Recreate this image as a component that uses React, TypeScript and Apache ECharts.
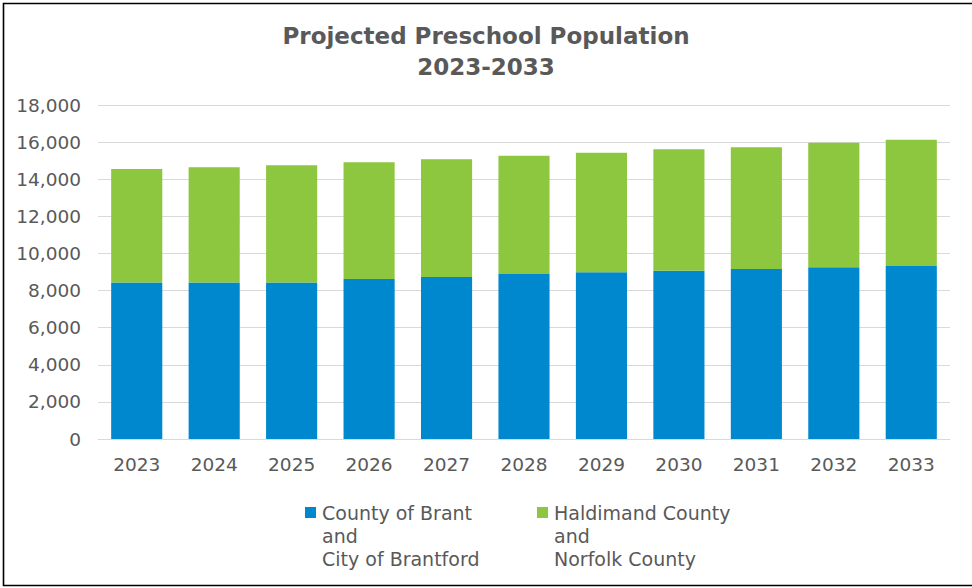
import React, { useEffect, useRef } from "react";
import * as echarts from "echarts";

const years = ["2023", "2024", "2025", "2026", "2027", "2028", "2029", "2030", "2031", "2032", "2033"];
const brantValues = [8440, 8440, 8440, 8620, 8730, 8890, 8980, 9070, 9160, 9250, 9330];
const haldimandValues = [6110, 6200, 6310, 6290, 6340, 6370, 6450, 6540, 6560, 6710, 6800];
const seriesNames = ["County of Brant\nand\nCity of Brantford", "Haldimand County\nand\nNorfolk County"];
const seriesColors = ["#0088CF", "#8DC63F"];
const titleText = "Projected Preschool Population\n2023-2033";

const FONT = "'DejaVu Sans', sans-serif";

export default function App() {
  const ref = useRef<HTMLDivElement>(null);
  useEffect(() => {
    if (!ref.current) return;
    const chart = echarts.init(ref.current, undefined, { renderer: "svg" });
    const legendX = [305, 537];
    const legendGraphics: any[] = [];
    seriesNames.forEach((name, i) => {
      legendGraphics.push({
        type: "rect",
        shape: { x: legendX[i], y: 507, width: 11, height: 11 },
        style: { fill: seriesColors[i] },
        silent: true,
      });
      legendGraphics.push({
        type: "text",
        x: legendX[i] + 17,
        y: 501,
        style: {
          text: name,
          fontFamily: FONT,
          fontSize: 19,
          lineHeight: 23,
          fill: "#595959",
          verticalAlign: "top",
        },
        silent: true,
      });
    });
    chart.setOption({
      animation: false,
      backgroundColor: "#ffffff",
      title: {
        text: titleText,
        left: "center",
        top: 15,
        textStyle: {
          fontFamily: FONT,
          fontSize: 23,
          fontWeight: "bold",
          color: "#595959",
          lineHeight: 31,
        },
      },
      grid: { left: 98, right: 22, top: 105, bottom: 149, containLabel: false },
      xAxis: {
        type: "category",
        data: years,
        axisLine: { lineStyle: { color: "#D9D9D9", width: 1 } },
        axisTick: { show: false },
        axisLabel: { fontFamily: FONT, fontSize: 18.5, color: "#595959", margin: 16 },
      },
      yAxis: {
        type: "value",
        min: 0,
        max: 18000,
        interval: 2000,
        axisLine: { show: false },
        axisTick: { show: false },
        splitLine: { lineStyle: { color: "#D9D9D9", width: 1 } },
        axisLabel: {
          fontFamily: FONT,
          fontSize: 18.5,
          color: "#595959",
          margin: 17,
          formatter: (v: number) => v.toLocaleString("en-US"),
        },
      },
      series: [
        {
          name: seriesNames[0],
          type: "bar",
          stack: "total",
          data: brantValues,
          barWidth: "66%",
          itemStyle: { color: seriesColors[0] },
        },
        {
          name: seriesNames[1],
          type: "bar",
          stack: "total",
          data: haldimandValues,
          barWidth: "66%",
          itemStyle: { color: seriesColors[1] },
        },
      ],
      graphic: [
        ...legendGraphics,
        {
          type: "rect",
          shape: { x: 3.5, y: 3.5, width: 980, height: 582 },
          style: { fill: "none", stroke: "#000000", lineWidth: 1.6 },
          silent: true,
        },
      ],
    });
    return () => chart.dispose();
  }, []);
  return (
    <div
      ref={ref}
      style={{ position: "fixed", left: 0, top: 0, width: 972, height: 588 }}
    />
  );
}
